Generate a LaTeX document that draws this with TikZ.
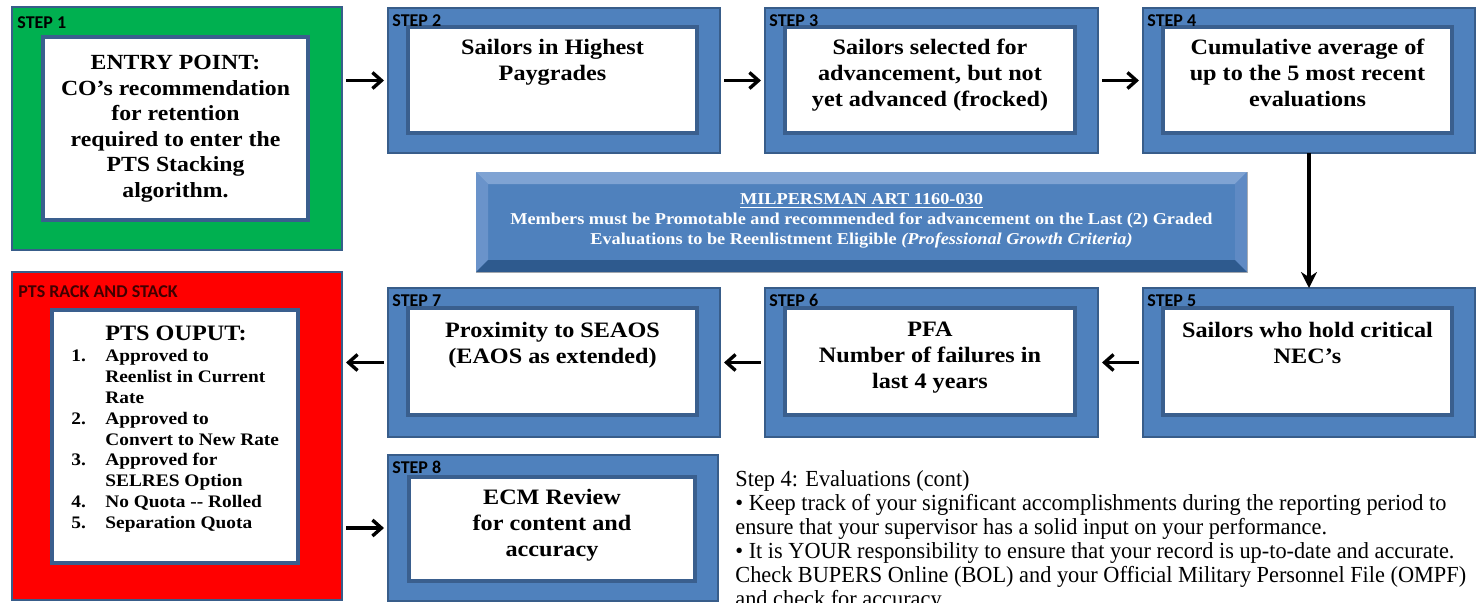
\documentclass[tikz,border=0pt]{standalone}
\usepackage{fontspec}
\setmainfont{Liberation Serif}
\newfontfamily\boxfont[FakeStretch=1.1]{Liberation Serif}
\newfontfamily\notefont[FakeStretch=0.97]{Liberation Serif}
\newfontfamily\labelfont{Carlito}
\usetikzlibrary{arrows.meta}
\definecolor{bluefill}{HTML}{4F81BD}
\definecolor{outerb}{HTML}{385D8A}
\definecolor{innerb}{HTML}{3A5F8E}
\definecolor{greenfill}{HTML}{00B050}
\definecolor{redfill}{HTML}{FF0000}
\definecolor{bevtop}{HTML}{7FA3D3}
\definecolor{bevleft}{HTML}{6A93CA}
\definecolor{bevright}{HTML}{5F8AC4}
\definecolor{bevbot}{HTML}{2E5A8E}
\definecolor{ptslab}{HTML}{400000}
\begin{document}
\begin{tikzpicture}[x=0.5pt,y=-0.5pt,
  outerbox/.style={draw=outerb, line width=1pt, fill=bluefill, inner sep=0pt, outer sep=0pt},
  innerwhite/.style={draw=innerb, line width=2pt, fill=white, inner sep=0pt, outer sep=0pt},
  steplabel/.style={font=\labelfont\bfseries\fontsize{9}{10}\selectfont, anchor=north west, inner sep=0pt},
  boxtext/.style={font=\boxfont\bfseries\fontsize{11}{13}\selectfont, align=center, anchor=north, inner sep=0pt},
  flow/.style={line width=1.7pt, -{Straight Barb[length=4.5pt,width=8pt]}, shorten <=2pt, shorten >=2pt},
  downflow/.style={line width=1.7pt, -{Stealth[length=8pt,width=8pt]}}
]
\useasboundingbox (0,0) rectangle (1480,602);
\clip (0,0) rectangle (1480,602);

% ---------- Step 1 ----------
\node[outerbox, fill=greenfill, minimum width=165pt, minimum height=121.5pt] (s1) at (177,128.5) {};
\node[innerwhite, minimum width=132.5pt, minimum height=91.5pt,
      font=\boxfont\bfseries\fontsize{10.8}{12.75}\selectfont, align=center] (s1in) at (175.5,128.5)
  {ENTRY POINT:\\CO’s recommendation\\for retention\\required to enter the\\PTS Stacking\\algorithm.};
\node[steplabel] (s1lab) at ([xshift=2.5pt,yshift=-4.5pt]s1.north west) {STEP 1};

% ---------- Step 2 ----------
\node[outerbox, minimum width=166pt, minimum height=72.5pt] (s2) at (554,80.5) {};
\node[innerwhite, minimum width=144.5pt, minimum height=53pt] (s2in) at (552.5,80) {};
\node[steplabel] (s2lab) at ([xshift=2pt,yshift=-3pt]s2.north west) {STEP 2};
\node[boxtext] (s2txt) at ([yshift=-6pt]s2in.north) {Sailors in Highest\\Paygrades};

% ---------- Step 3 ----------
\node[outerbox, minimum width=166.5pt, minimum height=72.5pt] (s3) at (931.5,80.5) {};
\node[innerwhite, minimum width=145pt, minimum height=53pt] (s3in) at (930,80) {};
\node[steplabel] (s3lab) at ([xshift=2pt,yshift=-3pt]s3.north west) {STEP 3};
\node[boxtext] (s3txt) at ([yshift=-6pt]s3in.north) {Sailors selected for\\advancement, but not\\yet advanced (frocked)};

% ---------- Step 4 ----------
\node[outerbox, minimum width=166pt, minimum height=72.5pt] (s4) at (1309,80.5) {};
\node[innerwhite, minimum width=144.5pt, minimum height=53pt] (s4in) at (1307.5,80) {};
\node[steplabel] (s4lab) at ([xshift=2pt,yshift=-3pt]s4.north west) {STEP 4};
\node[boxtext] (s4txt) at ([yshift=-6pt]s4in.north) {Cumulative average of\\up to the 5 most recent\\evaluations};

% ---------- Step 5 ----------
\node[outerbox, minimum width=166pt, minimum height=74.5pt] (s5) at (1309,362.5) {};
\node[innerwhite, minimum width=144.5pt, minimum height=53.5pt] (s5in) at (1307.5,361.5) {};
\node[steplabel] (s5lab) at ([xshift=2pt,yshift=-3pt]s5.north west) {STEP 5};
\node[boxtext] (s5txt) at ([yshift=-7pt]s5in.north) {Sailors who hold critical\\NEC’s};

% ---------- Step 6 ----------
\node[outerbox, minimum width=166.5pt, minimum height=74.5pt] (s6) at (931.5,362.5) {};
\node[innerwhite, minimum width=145pt, minimum height=53.5pt] (s6in) at (930,361.5) {};
\node[steplabel] (s6lab) at ([xshift=2pt,yshift=-3pt]s6.north west) {STEP 6};
\node[boxtext] (s6txt) at ([yshift=-7pt]s6in.north) {PFA\\Number of failures in\\last 4 years};

% ---------- Step 7 ----------
\node[outerbox, minimum width=166pt, minimum height=74.5pt] (s7) at (554,362.5) {};
\node[innerwhite, minimum width=144.5pt, minimum height=53.5pt] (s7in) at (552.5,361.5) {};
\node[steplabel] (s7lab) at ([xshift=2pt,yshift=-3pt]s7.north west) {STEP 7};
\node[boxtext] (s7txt) at ([yshift=-7pt]s7in.north) {Proximity to SEAOS\\(EAOS as extended)};

% ---------- Step 8 ----------
\node[outerbox, minimum width=165pt, minimum height=73pt] (s8) at (553,528) {};
\node[innerwhite, minimum width=143pt, minimum height=52pt] (s8in) at (552,529) {};
\node[steplabel] (s8lab) at ([xshift=2pt,yshift=-3pt]s8.north west) {STEP 8};
\node[boxtext] (s8txt) at ([yshift=-6pt]s8in.north) {ECM Review\\for content and\\accuracy};

% ---------- PTS rack and stack ----------
\node[outerbox, fill=redfill, minimum width=165pt, minimum height=164pt] (pts) at (177,436) {};
\node[innerwhite, minimum width=123pt, minimum height=126.5pt] (ptsin) at (175,436.5) {};
\node[anchor=north west, inner sep=0pt, text=ptslab, font=\labelfont\bfseries\fontsize{9}{10}\selectfont] (ptslab) at ([xshift=3pt,yshift=-6.5pt]pts.north west) {PTS RACK AND STACK};
\node[anchor=north, inner sep=0pt, font=\boxfont\bfseries\fontsize{11}{12}\selectfont] (ptshead) at (176,326) {PTS OUPUT:};
\node[anchor=north west, inner sep=0pt, font=\boxfont\bfseries\fontsize{8.8}{10.4}\selectfont] (ptslist) at (71,347)
  {\begin{tabular}{@{}p{17pt}@{}l@{}}
   1. & Approved to\\
      & Reenlist in Current\\
      & Rate\\
   2. & Approved to\\
      & Convert to New Rate\\
   3. & Approved for\\
      & SELRES Option\\
   4. & No Quota -- Rolled\\
   5. & Separation Quota
  \end{tabular}};

% ---------- MILPERSMAN bevel box ----------
\node[draw=gray!60, line width=0.5pt, fill=bluefill, minimum width=385.5pt, minimum height=50pt, inner sep=0pt, outer sep=0pt] (mil) at (861.5,222) {};
\node[fill=bluefill, minimum width=373.5pt, minimum height=38pt, inner sep=0pt, outer sep=0pt] (milface) at (861.5,222) {};
\fill[bevtop] (mil.north west) -- (mil.north east) -- (milface.north east) -- (milface.north west) -- cycle;
\fill[bevleft] (mil.north west) -- (milface.north west) -- (milface.south west) -- (mil.south west) -- cycle;
\fill[bevright] (mil.north east) -- (milface.north east) -- (milface.south east) -- (mil.south east) -- cycle;
\fill[bevbot] (mil.south west) -- (milface.south west) -- (milface.south east) -- (mil.south east) -- cycle;
\node[text=white, align=center, inner sep=0pt, font=\boxfont\bfseries\fontsize{8.3}{10}\selectfont] (miltxt) at (861.5,221)
  {\underline{MILPERSMAN ART 1160-030}\\
   Members must be Promotable and recommended for advancement on the Last (2) Graded\\
   Evaluations to be Reenlistment Eligible \textit{(Professional Growth Criteria)}};

% ---------- connectors ----------
\draw[flow] (s1.east |- s2.west) -- (s2.west);
\draw[flow] (s2.east) -- (s3.west);
\draw[flow] (s3.east) -- (s4.west);
\draw[downflow] (s4.south) -- (s5.north);
\draw[flow] (s5.west) -- (s6.east);
\draw[flow] (s6.west) -- (s7.east);
\draw[flow] (s7.west) -- (pts.east |- s7.west);
\draw[flow] (pts.east |- s8.west) -- (s8.west);

% ---------- note text ----------
\node[anchor=north west, inner sep=0pt, align=left, font=\notefont\fontsize{11.5}{12}\selectfont] (note) at (735,470)
  {Step 4: Evaluations (cont)\\
   • Keep track of your significant accomplishments during the reporting period to\\
   ensure that your supervisor has a solid input on your performance.\\
   • It is YOUR responsibility to ensure that your record is up-to-date and accurate.\\
   Check BUPERS Online (BOL) and your Official Military Personnel File (OMPF)\\
   and check for accuracy.};
\end{tikzpicture}
\end{document}
